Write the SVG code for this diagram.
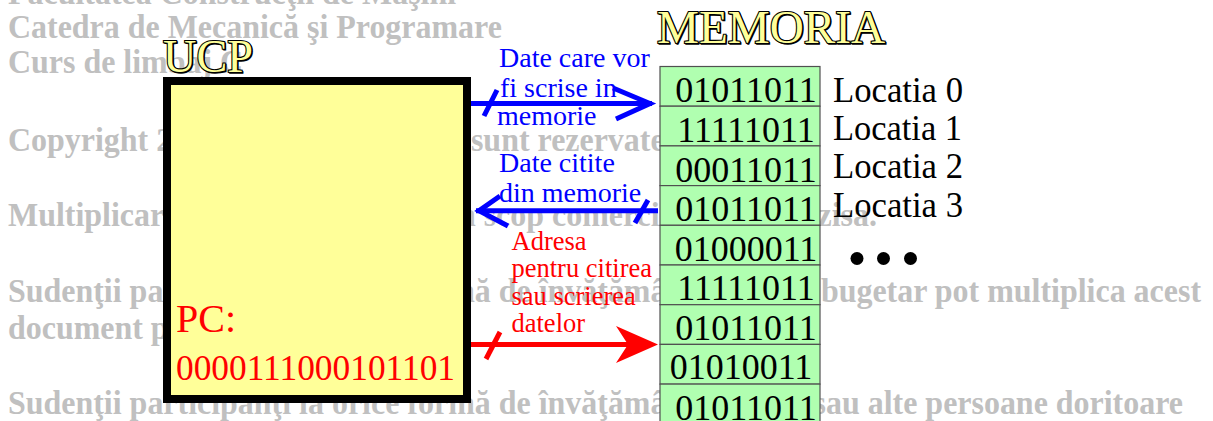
<svg xmlns="http://www.w3.org/2000/svg" width="1213" height="421" viewBox="0 0 1213 421">
  <style>
    .wm { font-family: "Liberation Serif", "Times New Roman", serif; font-weight: bold; font-size: 34px; fill: #c0c0c0; }
    .title { font-family: "Liberation Serif", "Times New Roman", serif; font-size: 47px; fill: #ffff99; stroke: #000; stroke-width: 2.2px; paint-order: stroke; }
    .shadow { font-family: "Liberation Serif", "Times New Roman", serif; font-size: 47px; fill: #000; stroke: #000; stroke-width: 1.5px; }
    .cell { fill: #b0ffb0; stroke: #505050; stroke-width: 1.2; }
    .bits { font-family: "Liberation Serif", "Times New Roman", serif; font-size: 36px; fill: #000; text-anchor: middle; }
    .loc { font-family: "Liberation Serif", "Times New Roman", serif; font-size: 35px; fill: #000; }
    .blue { font-family: "Liberation Serif", "Times New Roman", serif; font-size: 28px; fill: #0000ff; }
    .red { font-family: "Liberation Serif", "Times New Roman", serif; font-size: 26.5px; fill: #ff0000; }
    .pc { font-family: "Liberation Serif", "Times New Roman", serif; fill: #ff0000; }
    .bl { stroke: #0000ff; stroke-width: 5; fill: none; }
    .rd { stroke: #ff0000; stroke-width: 5; fill: none; }
  </style>

  <!-- background watermark lines (slightly condensed serif) -->
  <g id="watermark" transform="scale(0.94 1)">
    <text class="wm" x="8.5" y="4">Facultatea Construcţii de Maşini</text>
    <text class="wm" x="8.5" y="38">Catedra de Mecanică şi Programare</text>
    <text class="wm" x="8.5" y="73">Curs de limbaj C</text>
    <text class="wm" x="8.5" y="151">Copyright 2</text>
    <text class="wm" x="501" y="151">sunt rezervate.</text>
    <text class="wm" x="8.5" y="226">Multiplicar</text>
    <text class="wm" x="477.7" y="226">în scop comercial este interzisa.</text>
    <text class="wm" x="8.5" y="302">Sudenţii participanţi la orice formă de învăţământ</text>
    <text class="wm" x="1277.7" y="302" text-anchor="end">bugetar pot multiplica acest</text>
    <text class="wm" x="8.5" y="339">document p</text>
    <text class="wm" x="8.5" y="414">Sudenţii participanţi la orice formă de învăţământ</text>
    <text class="wm" x="1258.5" y="414" text-anchor="end">sau alte persoane doritoare</text>
  </g>

  <!-- processor -->
  <g id="ucp">
    <rect x="167" y="81" width="300" height="318" fill="#ffff99" stroke="#000" stroke-width="8"/>
    <text class="shadow" x="164" y="73" textLength="90" lengthAdjust="spacingAndGlyphs">UCP</text>
    <text class="title" x="163" y="72" textLength="90" lengthAdjust="spacingAndGlyphs">UCP</text>
    <text class="pc" x="176" y="332" font-size="40">PC:</text>
    <text class="pc" x="176" y="380" font-size="35" textLength="279" lengthAdjust="spacingAndGlyphs">0000111000101101</text>
  </g>

  <!-- memory -->
  <g id="memoria">
    <text class="shadow" x="658" y="44" textLength="228" lengthAdjust="spacingAndGlyphs">MEMORIA</text>
    <text class="title" x="657" y="43" textLength="228" lengthAdjust="spacingAndGlyphs">MEMORIA</text>
    <g id="cells">
      <rect class="cell" x="660" y="66.5" width="160" height="39.7"/>
      <rect class="cell" x="660" y="106.2" width="160" height="39.7"/>
      <rect class="cell" x="660" y="145.9" width="160" height="39.7"/>
      <rect class="cell" x="660" y="185.6" width="160" height="39.7"/>
      <rect class="cell" x="660" y="225.3" width="160" height="39.7"/>
      <rect class="cell" x="660" y="265" width="160" height="39.7"/>
      <rect class="cell" x="660" y="304.7" width="160" height="39.7"/>
      <rect class="cell" x="660" y="344.4" width="160" height="39.7"/>
      <rect class="cell" x="660" y="384.1" width="160" height="45"/>
      <text class="bits" x="746" y="102">01011011</text>
      <text class="bits" x="746" y="141.7">11111011</text>
      <text class="bits" x="746" y="181.5">00011011</text>
      <text class="bits" x="746" y="220.5">01011011</text>
      <text class="bits" x="746" y="260.5">01000011</text>
      <text class="bits" x="746" y="300.2">11111011</text>
      <text class="bits" x="746" y="340">01011011</text>
      <text class="bits" x="741" y="378.5">01010011</text>
      <text class="bits" x="746" y="419.5">01011011</text>
    </g>
    <g id="labels">
      <text class="loc" x="833" y="101.7" textLength="130" lengthAdjust="spacingAndGlyphs">Locatia 0</text>
      <text class="loc" x="833" y="140" textLength="129" lengthAdjust="spacingAndGlyphs">Locatia 1</text>
      <text class="loc" x="833" y="178.3" textLength="130" lengthAdjust="spacingAndGlyphs">Locatia 2</text>
      <text class="loc" x="833" y="216.7" textLength="130" lengthAdjust="spacingAndGlyphs">Locatia 3</text>
      <circle cx="857" cy="258.5" r="6.5" fill="#000"/>
      <circle cx="883.5" cy="258.5" r="6.5" fill="#000"/>
      <circle cx="910.5" cy="258.5" r="6.5" fill="#000"/>
    </g>
  </g>

  <!-- buses between processor and memory -->
  <g id="connectors">
    <!-- write data bus -->
    <line class="bl" x1="471" y1="103.5" x2="652" y2="103.5"/>
    <polyline class="bl" stroke-width="6" points="613,88 650,103.5 616,119"/>
    <line class="bl" stroke-width="4" x1="497" y1="90" x2="484" y2="116"/>
    <!-- read data bus -->
    <line class="bl" x1="658" y1="210.7" x2="476" y2="210.7"/>
    <polyline class="bl" stroke-width="6" points="500,196 479,210.7 508,226"/>
    <line class="bl" stroke-width="4" x1="648" y1="200" x2="635" y2="223"/>
    <!-- address bus -->
    <line class="rd" x1="471" y1="344.5" x2="632" y2="344.5"/>
    <polygon points="658,344.5 616,326 628,344.5 616,363" fill="#ff0000"/>
    <line class="rd" stroke-width="4" x1="500" y1="332" x2="486" y2="359"/>
  </g>

  <g id="bus-labels">
    <text class="blue" x="499" y="66.7">Date care vor</text>
    <text class="blue" x="500" y="96.7">fi scrise in</text>
    <text class="blue" x="497" y="125">memorie</text>
    <text class="blue" x="499" y="171.7">Date citite</text>
    <text class="blue" x="499" y="201.7">din memorie</text>
    <text class="red" x="511.5" y="250">Adresa</text>
    <text class="red" x="511.5" y="276.7">pentru citirea</text>
    <text class="red" x="511.5" y="305">sau scrierea</text>
    <text class="red" x="511.5" y="331.7">datelor</text>
  </g>
</svg>
